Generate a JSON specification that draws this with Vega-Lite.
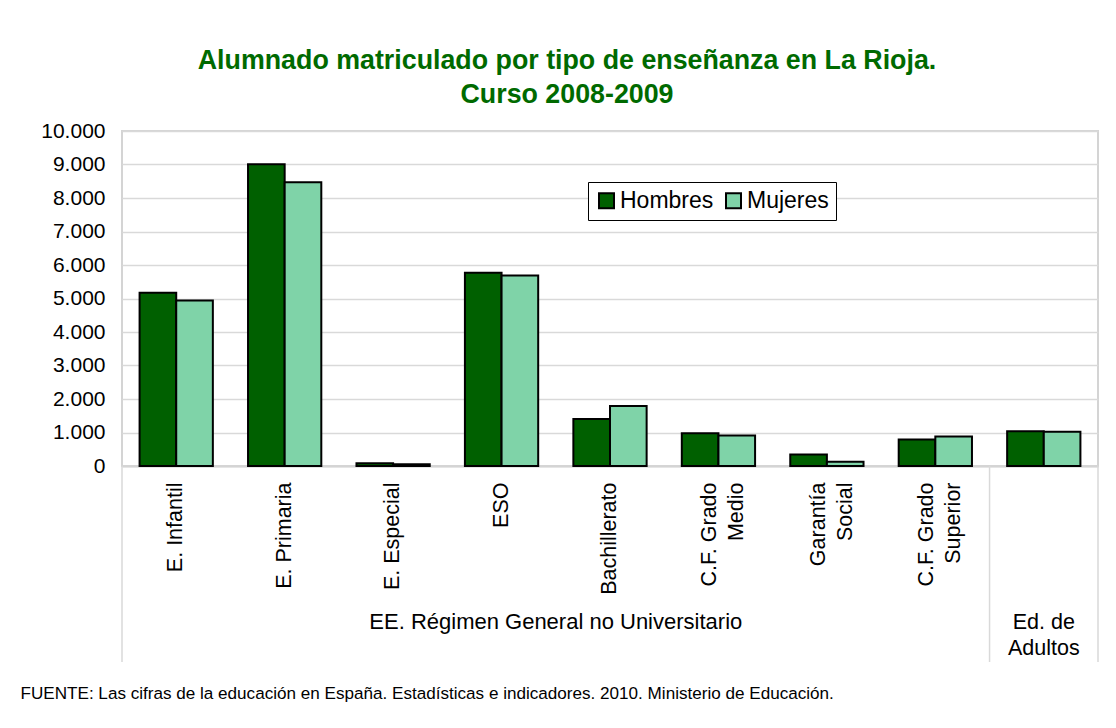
{
  "$schema": "https://vega.github.io/schema/vega-lite/v6.json",
  "width": 976,
  "height": 335,
  "autosize": {"type": "none"},
  "padding": {"left": 122, "top": 131, "right": 18, "bottom": 262},
  "background": "white",
  "title": {
    "text": ["Alumnado matriculado por tipo de enseñanza en La Rioja.", "Curso 2008-2009"],
    "font": "Liberation Sans",
    "fontSize": 26.8,
    "fontWeight": "bold",
    "color": "#006a00",
    "anchor": "middle",
    "frame": "group",
    "dx": -43,
    "offset": 11,
    "lineHeight": 34
  },
  "datasets": {
    "matriculas": [
      {"tipo": "E. Infantil", "sexo": "Hombres", "alumnos": 5170},
      {"tipo": "E. Infantil", "sexo": "Mujeres", "alumnos": 4940},
      {"tipo": "E. Primaria", "sexo": "Hombres", "alumnos": 9010},
      {"tipo": "E. Primaria", "sexo": "Mujeres", "alumnos": 8470},
      {"tipo": "E. Especial", "sexo": "Hombres", "alumnos": 80},
      {"tipo": "E. Especial", "sexo": "Mujeres", "alumnos": 50},
      {"tipo": "ESO", "sexo": "Hombres", "alumnos": 5770},
      {"tipo": "ESO", "sexo": "Mujeres", "alumnos": 5690},
      {"tipo": "Bachillerato", "sexo": "Hombres", "alumnos": 1400},
      {"tipo": "Bachillerato", "sexo": "Mujeres", "alumnos": 1790},
      {"tipo": "C.F. Grado Medio", "sexo": "Hombres", "alumnos": 980},
      {"tipo": "C.F. Grado Medio", "sexo": "Mujeres", "alumnos": 910},
      {"tipo": "Garantía Social", "sexo": "Hombres", "alumnos": 340},
      {"tipo": "Garantía Social", "sexo": "Mujeres", "alumnos": 130},
      {"tipo": "C.F. Grado Superior", "sexo": "Hombres", "alumnos": 790},
      {"tipo": "C.F. Grado Superior", "sexo": "Mujeres", "alumnos": 880},
      {"tipo": "Ed. de Adultos", "sexo": "Hombres", "alumnos": 1040},
      {"tipo": "Ed. de Adultos", "sexo": "Mujeres", "alumnos": 1020}
    ],
    "separadores": [
      {"tipo": "E. Infantil"},
      {"tipo": "Ed. de Adultos"}
    ],
    "fin": [
      {"tipo": "Ed. de Adultos"}
    ],
    "grupo_general": [
      {"tipo": "Bachillerato", "grupo": "EE. Régimen General no Universitario"}
    ],
    "grupo_adultos": [
      {"tipo": "Ed. de Adultos", "grupo": "Ed. de\nAdultos"}
    ]
  },
  "resolve": {"axis": {"y": "independent"}},
  "layer": [
    {
      "data": {"name": "matriculas"},
      "mark": {"type": "bar", "stroke": "black", "strokeWidth": 2},
      "encoding": {
        "x": {
          "field": "tipo",
          "type": "nominal",
          "scale": {
            "domain": ["E. Infantil", "E. Primaria", "E. Especial", "ESO", "Bachillerato", "C.F. Grado Medio", "Garantía Social", "C.F. Grado Superior", "Ed. de Adultos"],
            "paddingInner": 0,
            "paddingOuter": 0
          },
          "axis": {
            "title": "FUENTE: Las cifras de la educación en España. Estadísticas e indicadores. 2010. Ministerio de Educación.",
            "titleX": -102,
            "titleY": 232,
            "titleAlign": "left",
            "titleAnchor": "start",
            "titleBaseline": "alphabetic",
            "titleFontSize": 17.1,
            "titleFontWeight": "normal",
            "titleColor": "black",
            "labelAngle": 270,
            "labelAlign": "right",
            "labelBaseline": "middle",
            "labelExpr": "datum.label == 'Ed. de Adultos' ? '' : (indexof(datum.label, 'Grado ') >= 0 ? split(replace(datum.label, 'Grado ', 'Grado|'), '|') : (datum.label == 'Garantía Social' ? ['Garantía', 'Social'] : datum.label))",
            "labelOffset": {
              "condition": {
                "test": "datum.value == 'C.F. Grado Medio' || datum.value == 'Garantía Social' || datum.value == 'C.F. Grado Superior'",
                "value": -8
              },
              "value": 0
            },
            "labelFontSize": 21.5,
            "labelLineHeight": 27,
            "labelPadding": 16,
            "labelColor": "black",
            "labelLimit": 300,
            "labelOverlap": false,
            "ticks": false,
            "domain": true,
            "domainColor": "#d4d4d4",
            "domainWidth": 2
          }
        },
        "xOffset": {
          "field": "sexo",
          "type": "nominal",
          "sort": ["Hombres", "Mujeres"],
          "scale": {"paddingInner": 0, "paddingOuter": 0.48}
        },
        "y": {
          "field": "alumnos",
          "type": "quantitative",
          "scale": {"domain": [0, 10000], "nice": false},
          "axis": {
            "title": null,
            "values": [0, 1000, 2000, 3000, 4000, 5000, 6000, 7000, 8000, 9000, 10000],
            "labelExpr": "replace(format(datum.value, ','), ',', '.')",
            "labelOverlap": false,
            "labelFontSize": 21,
            "labelPadding": 17,
            "labelColor": "black",
            "ticks": false,
            "domain": false,
            "grid": true,
            "gridColor": "#d9d9d9",
            "gridWidth": 1.5
          }
        },
        "color": {
          "field": "sexo",
          "type": "nominal",
          "sort": ["Hombres", "Mujeres"],
          "scale": {"range": ["#006000", "#7fd3a8"]},
          "legend": {
            "title": null,
            "orient": "none",
            "legendX": 466,
            "legendY": 51,
            "direction": "horizontal",
            "labelFontSize": 23,
            "labelColor": "black",
            "labelOffset": 2,
            "symbolType": "square",
            "symbolSize": 225,
            "symbolStrokeColor": "black",
            "symbolStrokeWidth": 2,
            "strokeColor": "black",
            "fillColor": "white",
            "padding": 7,
            "columnPadding": 8
          }
        }
      }
    },
    {
      "data": {"name": "separadores"},
      "mark": {"type": "rule", "color": "#d9d9d9", "strokeWidth": 1.5},
      "encoding": {
        "x": {"field": "tipo", "type": "nominal", "bandPosition": 0},
        "y": {"datum": 0, "type": "quantitative", "axis": null},
        "y2": {"datum": -5851}
      }
    },
    {
      "data": {"name": "fin"},
      "mark": {"type": "rule", "color": "#d9d9d9", "strokeWidth": 1.5},
      "encoding": {
        "x": {"field": "tipo", "type": "nominal", "bandPosition": 1},
        "y": {"datum": 0, "type": "quantitative", "axis": null},
        "y2": {"datum": -5851}
      }
    },
    {
      "data": {"name": "grupo_general"},
      "mark": {"type": "text", "fontSize": 22, "align": "center", "baseline": "alphabetic", "color": "black"},
      "encoding": {
        "x": {"field": "tipo", "type": "nominal", "bandPosition": 0},
        "y": {"datum": -4866, "type": "quantitative", "axis": null},
        "text": {"field": "grupo"}
      }
    },
    {
      "data": {"name": "grupo_adultos"},
      "mark": {"type": "text", "fontSize": 21.5, "align": "center", "baseline": "alphabetic", "color": "black", "lineBreak": "\n", "lineHeight": 26},
      "encoding": {
        "x": {"field": "tipo", "type": "nominal", "bandPosition": 0.5},
        "y": {"datum": -4866, "type": "quantitative", "axis": null},
        "text": {"field": "grupo"}
      }
    }
  ],
  "config": {
    "font": "Liberation Sans",
    "view": {"stroke": "#d4d4d4", "strokeWidth": 2}
  }
}
